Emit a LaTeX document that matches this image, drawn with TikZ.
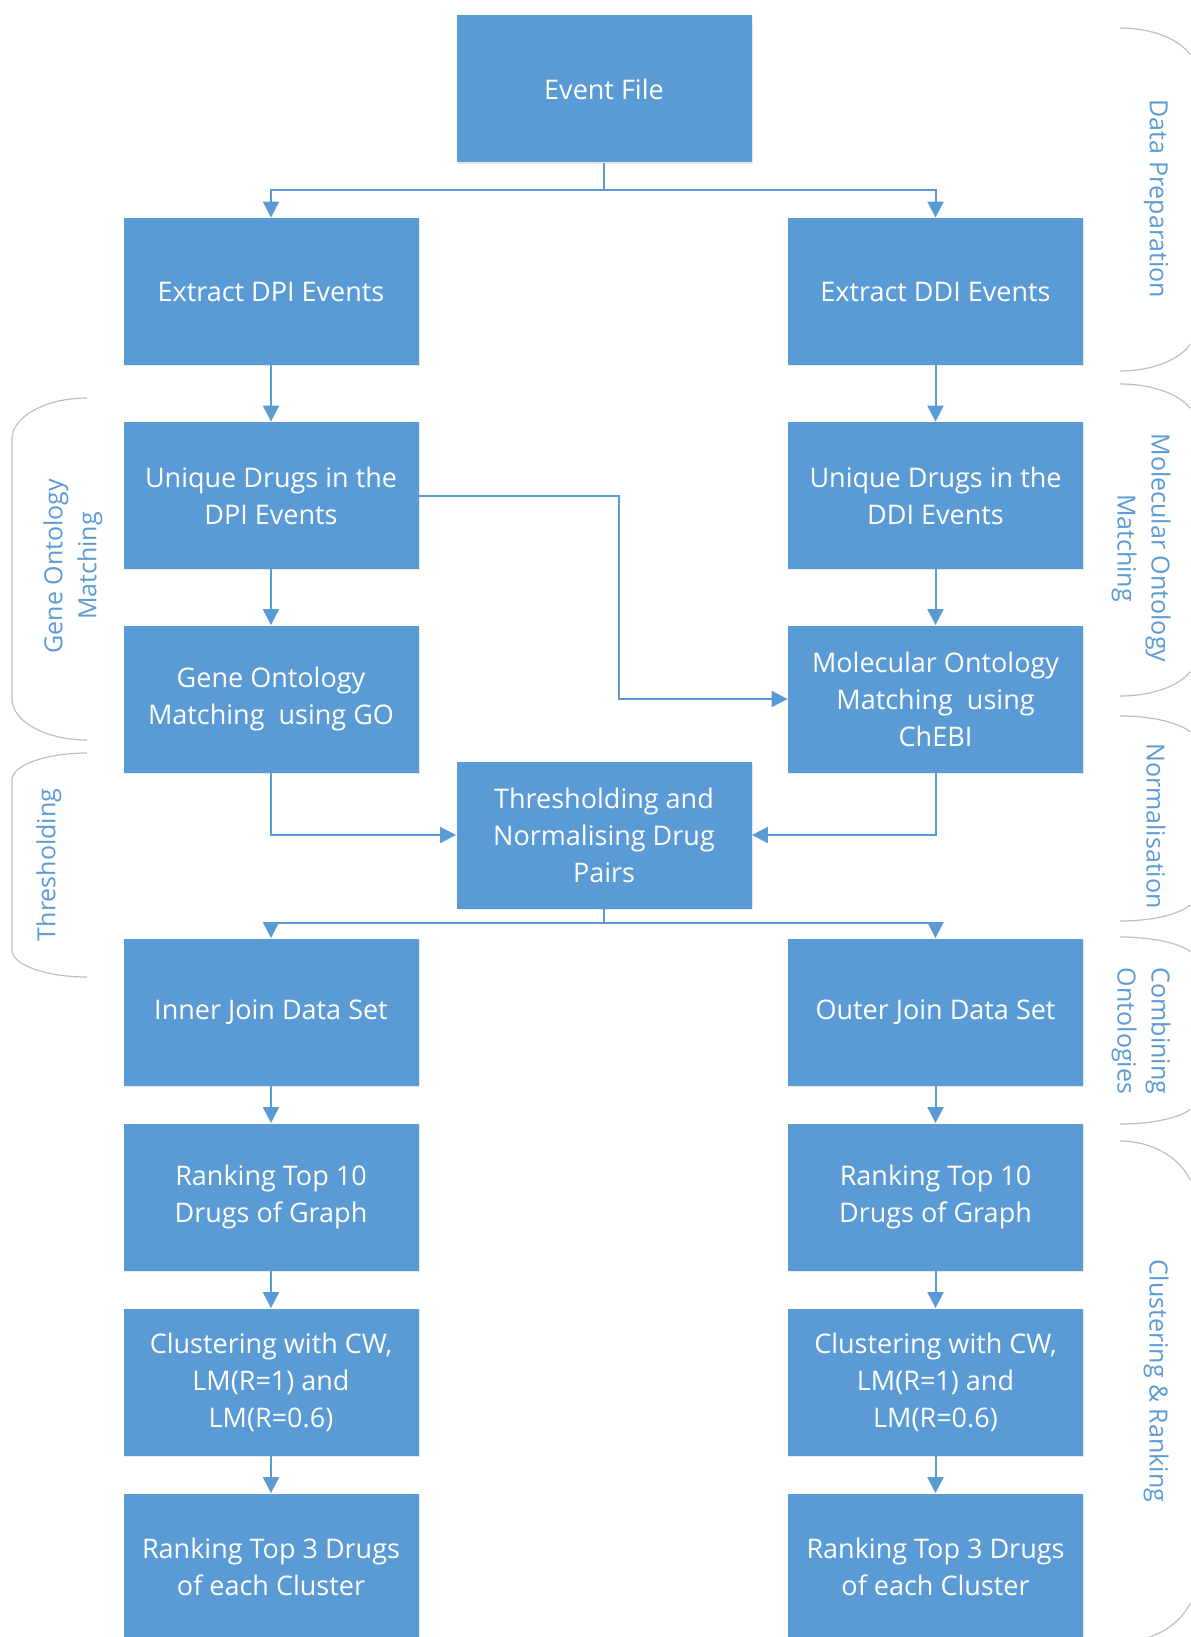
\documentclass[tikz,border=0pt]{standalone}
\usepackage{fontspec}
\setmainfont{Open Sans}
\usetikzlibrary{arrows.meta,shadows}
\definecolor{boxblue}{HTML}{5B9BD5}
\definecolor{bracegray}{HTML}{BFBFBF}

\begin{document}
\begin{tikzpicture}[
		x=0.5pt,y=-0.5pt,
		stepbox/.style={rectangle,fill=boxblue,text=white,minimum width=147.5pt,minimum height=73.5pt,
			align=center,font=\fontsize{13.5}{18.5}\selectfont,
			drop shadow={shadow xshift=0.7pt,shadow yshift=-0.7pt,opacity=0.18}},
		link/.style={draw=boxblue,line width=1pt,-{Triangle[length=8pt,width=8pt]}},
		brace/.style={draw=bracegray,line width=0.6pt},
		phase/.style={text=boxblue,align=center,inner sep=0pt,font=\fontsize{12.5}{17}\selectfont}]
		
		\useasboundingbox (0,0) rectangle (1190,1637);
		\clip (0,0) rectangle (1190,1637);
		
		%schritte oben
		\node[stepbox] (event) at (604,89) {Event File};
		\node[stepbox] (dpi) at (271,291.5) {Extract DPI Events};
		\node[stepbox] (ddi) at (935.5,291.5) {Extract DDI Events};
		\node[stepbox] (udpi) at (271,495.5) {Unique Drugs in the\\DPI Events};
		\node[stepbox] (uddi) at (935.5,495.5) {Unique Drugs in the\\DDI Events};
		\node[stepbox] (gene) at (271,699) {Gene Ontology\\Matching~ using GO};
		\node[stepbox] (mol) at (935.5,699) {Molecular Ontology\\Matching~ using\\ChEBI};
		\node[stepbox] (thr) at (604,835) {Thresholding and\\Normalising Drug\\Pairs};
		
		\coordinate (fork1) at (604,190);
		\coordinate (fork2) at (604,923);
		
		%verbindungen oben
		\draw[link] (event.south) -- (fork1) -| (dpi.north);
		\draw[link] (event.south) -- (fork1) -| (ddi.north);
		\draw[link] (dpi) -- (udpi);
		\draw[link] (ddi) -- (uddi);
		\draw[link] (udpi) -- (gene);
		\draw[link] (uddi) -- (mol);
		\draw[link] (udpi.east) -- ++(200.5,0) |- (mol.west);
		\draw[link] (gene.south) |- (thr.west);
		\draw[link] (mol.south) |- (thr.east);
		
		%zwei zweige unten
		\foreach \side/\xpos/\kind in {l/271/Inner, r/935.5/Outer}{
			\node[stepbox] (join\side) at (\xpos,1012) {\kind\ Join Data Set};
			\node[stepbox] (rank\side) at (\xpos,1197) {Ranking Top 10\\Drugs of Graph};
			\node[stepbox] (clus\side) at (\xpos,1382) {Clustering with CW,\\LM(R=1) and\\LM(R=0.6)};
			\node[stepbox] (top\side) at (\xpos,1567) {Ranking Top 3 Drugs\\of each Cluster};
			\draw[link] (join\side) -- (rank\side);
			\draw[link] (rank\side) -- (clus\side);
			\draw[link] (clus\side) -- (top\side);
		}
		
		\draw[link] (thr.south) -- (fork2) -| (joinl.north);
		\draw[link] (thr.south) -- (fork2) -| (joinr.north);
		
		%klammern rechts
		\foreach[count=\i] \ya/\yb/\xt/\yt/\txt in {28/371/1156/199/{Data Preparation}, 384/696/1141/548/{Molecular Ontology\\Matching}, 716/921/1156/826/{Normalisation}, 937/1124/1141/1031/{Combining\\Ontologies}, 1141/1642/1156/1381/{Clustering \& Ranking}}{
			\pgfmathsetmacro\ry{0.12*(\yb-\ya)}
			\draw[brace] (1120,\ya) .. controls (1161,\ya) and (1195,{\ya+0.45*\ry}) .. (1195,{\ya+\ry})
				-- (1195,{\yb-\ry}) .. controls (1195,{\yb-0.45*\ry}) and (1161,\yb) .. (1120,\yb);
			\node[phase,rotate=-90] (phaseR\i) at (\xt,\yt) {\txt};
		}
		
		%klammern links
		\foreach[count=\i] \ya/\yb/\xt/\yt/\txt in {398/740/73/566/{Gene Ontology\\Matching}, 753/977/49/865/{Thresholding}}{
			\pgfmathsetmacro\ry{0.12*(\yb-\ya)}
			\draw[brace] (87,\ya) .. controls (46,\ya) and (12,{\ya+0.45*\ry}) .. (12,{\ya+\ry})
				-- (12,{\yb-\ry}) .. controls (12,{\yb-0.45*\ry}) and (46,\yb) .. (87,\yb);
			\node[phase,rotate=90] (phaseL\i) at (\xt,\yt) {\txt};
		}
		
	\end{tikzpicture}
\end{document}
